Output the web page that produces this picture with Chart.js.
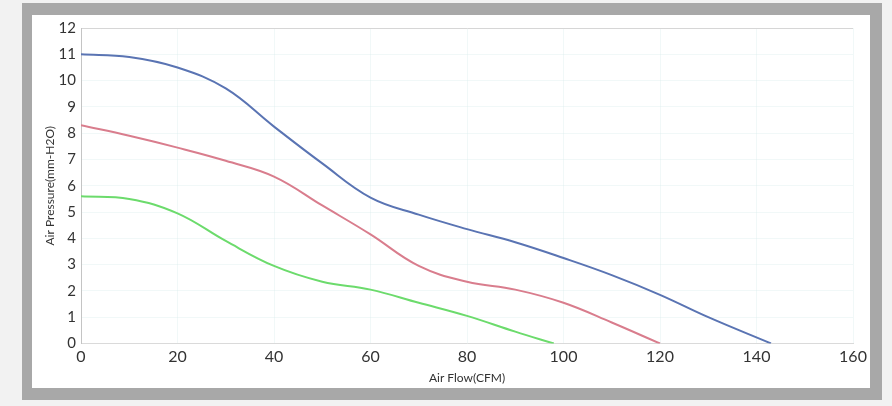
<!DOCTYPE html>
<html>
<head>
<meta charset="utf-8">
<script src="https://cdn.jsdelivr.net/npm/chart.js@4/dist/chart.umd.min.js"></script>
<style>
  html, body { margin: 0; padding: 0; background: #f2f2f2; }
  #wrap { position: relative; width: 892px; height: 406px; }
  canvas { display: block; }
</style>
</head>
<body>
<div id="wrap"><canvas id="c" width="892" height="406"></canvas></div>
<script>
// ---- data ----
const flowBlue  = [0, 10, 20, 30, 40, 50, 60, 70, 80, 90, 100, 110, 120, 130, 143];
const pressBlue = [11.0, 10.9, 10.5, 9.7, 8.25, 6.85, 5.55, 4.9, 4.35, 3.85, 3.25, 2.6, 1.85, 1.0, 0];

const flowRed  = [0, 10, 20, 30, 40, 50, 60, 70, 80, 90, 100, 110, 120];
const pressRed = [8.3, 7.9, 7.45, 6.95, 6.35, 5.25, 4.15, 2.95, 2.35, 2.05, 1.55, 0.8, 0];

const flowGreen  = [0, 10, 20, 30, 40, 50, 60, 70, 80, 90, 98];
const pressGreen = [5.6, 5.5, 4.95, 3.9, 2.95, 2.35, 2.05, 1.55, 1.05, 0.45, 0];

const xTicks = [0, 20, 40, 60, 80, 100, 120, 140, 160];
const yTicks = [0, 1, 2, 3, 4, 5, 6, 7, 8, 9, 10, 11, 12];
const xTitle = 'Air Flow(CFM)';
const yTitle = 'Air Pressure(mm-H2O)';

function pts(xs, ys) { return xs.map((x, i) => ({ x: x, y: ys[i] })); }

const framePlugin = {
  id: 'frame',
  beforeDraw(chart) {
    const ctx = chart.ctx;
    ctx.save();
    ctx.fillStyle = '#f2f2f2';
    ctx.fillRect(0, 0, chart.width, chart.height);
    ctx.fillStyle = '#a8a8a8';
    ctx.fillRect(22, 3, 860, 397);
    ctx.fillStyle = '#ffffff';
    ctx.fillRect(32, 15, 838, 373);
    ctx.restore();
  }
};

const lineStyle = { borderWidth: 2, pointRadius: 0, tension: 0.4, fill: false };

new Chart(document.getElementById('c'), {
  type: 'line',
  data: {
    datasets: [
      Object.assign({ data: pts(flowBlue, pressBlue), borderColor: '#5a74b3' }, lineStyle),
      Object.assign({ data: pts(flowRed, pressRed), borderColor: '#d97d8d' }, lineStyle),
      Object.assign({ data: pts(flowGreen, pressGreen), borderColor: '#6cdb6c' }, lineStyle)
    ]
  },
  options: {
    responsive: false,
    animation: false,
    events: [],
    layout: { padding: { left: 0, right: 39, top: 28, bottom: 0 } },
    plugins: { legend: { display: false }, tooltip: { enabled: false } },
    scales: {
      x: {
        type: 'linear',
        min: 0, max: 160,
        afterBuildTicks(s) { s.ticks = xTicks.map(v => ({ value: v })); },
        afterFit(s) { s.height = 62.5; },
        grid: {
          color: 'rgba(215,235,235,0.35)',
          drawTicks: false
        },
        border: { display: true, color: '#dadada', width: 1 },
        ticks: { color: '#333333', font: { family: 'Lato', size: 16 }, padding: 4, maxRotation: 0 },
        title: { display: true, text: xTitle, color: '#333333', font: { family: 'Lato', size: 12 }, padding: { top: 0, bottom: 21 } }
      },
      y: {
        type: 'linear',
        min: 0, max: 12,
        afterBuildTicks(s) { s.ticks = yTicks.map(v => ({ value: v })); },
        afterFit(s) { s.width = 81; },
        grid: {
          color: (c) => (c.tick && c.tick.value === 12) ? '#d6d6d6' : 'rgba(215,235,235,0.35)',
          drawTicks: false
        },
        border: { display: true, color: '#c4c4c4', width: 1 },
        ticks: { color: '#333333', font: { family: 'Lato', size: 15 }, padding: 5 },
        title: { display: true, text: yTitle, color: '#333333', font: { family: 'Lato', size: 12 }, padding: { top: 43, bottom: 0 } }
      }
    }
  },
  plugins: [framePlugin]
});
</script>
</body>
</html>
